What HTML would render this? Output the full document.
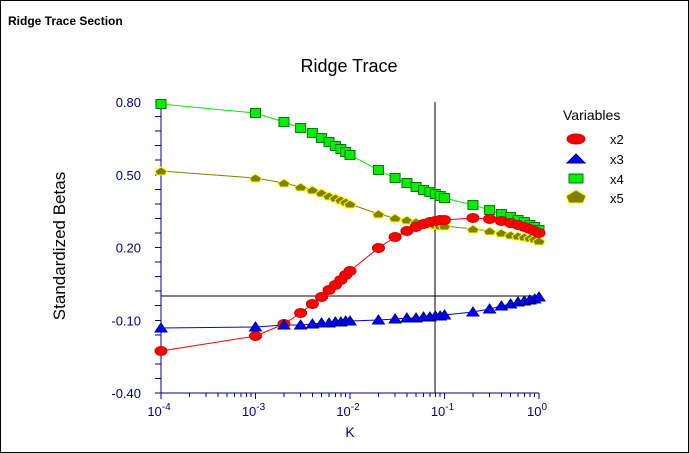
<!DOCTYPE html><html><head><style>body{margin:0;background:#fff}svg{display:block;font-family:"Liberation Sans",Arial,sans-serif}line{shape-rendering:crispEdges}</style></head><body>
<svg id="s" width="689" height="453" xmlns="http://www.w3.org/2000/svg">
<rect x="0.5" y="0.5" width="688" height="452" fill="#fff" stroke="#000"/>
<text x="8" y="25" font-size="12" font-weight="bold">Ridge Trace Section</text>
<text x="349" y="72" font-size="18" text-anchor="middle">Ridge Trace</text>
<text transform="translate(65,246) rotate(-90)" font-size="17" text-anchor="middle">Standardized Betas</text>
<text x="350" y="437" font-size="14" text-anchor="middle" fill="#000080">K</text>
<g id="g"></g>
<text x="563" y="120" font-size="14">Variables</text>
<ellipse cx="576" cy="139" rx="9" ry="5" fill="#f00" stroke="#c00"/>
<text x="610" y="144" font-size="13">x2</text>
<polygon points="567,163 576,154 585,163" fill="#00f" stroke="#000080"/>
<text x="610" y="164" font-size="13">x3</text>
<rect x="569" y="174" width="14" height="9" fill="#0e0" stroke="#070"/>
<text x="610" y="184" font-size="13">x4</text>
<polygon points="566,196 576,190 586,196 583,203 569,203" fill="#808000" stroke="#ff0"/>
<text x="610" y="203" font-size="13">x5</text>
</svg>
<script>
var g=document.getElementById('g'),h='';
function X(k){return 161+(Math.log10(k)+4)*94.5;}
var ks=[1e-4];for(var i=1;i<=10;i++)ks.push(i/1000);for(i=2;i<=10;i++)ks.push(i/100);for(i=2;i<=10;i++)ks.push(i/10);
h+='<line x1="161" y1="102" x2="161" y2="393" stroke="#000080"/><line x1="161" y1="393" x2="539" y2="393" stroke="#000080"/>';
for(i=0;i<=20;i++){var y=102+i*14.55;h+='<line x1="155" y1="'+y+'" x2="161" y2="'+y+'" stroke="#000080"/>';}
var yl=['0.80','0.50','0.20','-0.10','-0.40'];for(i=0;i<5;i++)h+='<text x="141" y="'+(107+i*72.75)+'" font-size="13" text-anchor="end" fill="#000080">'+yl[i]+'</text>';
for(var d=-4;d<0;d++)for(var m=1;m<10;m++){var x=X(m*Math.pow(10,d));h+='<line x1="'+x+'" y1="393" x2="'+x+'" y2="'+(m==1?399:397)+'" stroke="#000080"/>';}
h+='<line x1="539" y1="393" x2="539" y2="399" stroke="#000080"/>';
for(d=-4;d<=0;d++){var x=X(Math.pow(10,d));h+='<text x="'+(x-2)+'" y="416" font-size="13" text-anchor="middle" fill="#000080">10<tspan font-size="10" dy="-6">'+d+'</tspan></text>';}
h+='<line x1="161" y1="296" x2="539" y2="296" stroke="#000"/><line x1="435" y1="102" x2="435" y2="393" stroke="#000"/>';
var S={
x4:[104,113,122,128,133,138,142,146,149,152,155,170,178,183,187,190,192,194,196,198,205,210,214,217,220,222,225,227,230],
x5:[171,178,183,187,190,193,196,198,200,202,204,214,218,220,222,223,224,225,226,226,229,231,233,235,236,237,238,239,241],
x2:[351,336,324,313,304,297,290,285,280,275,271,248,237,231,227,224,222,221,220,220,218,219,221,223,225,227,229,231,233],
x3:[328,327,325,325,324,323,323,322,322,321,321,320,319,318,318,317,317,316,316,315,312,309,306,304,302,301,300,299,297]};
var C={x4:'#0e0',x5:'#808000',x2:'#f00',x3:'#00f'};
for(var k in S){var p=S[k].map(function(y,j){return X(ks[j]).toFixed(1)+','+y}).join(' ');h+='<polyline points="'+p+'" fill="none" stroke="'+C[k]+'"/>';}
for(k in S)S[k].forEach(function(y,j){var x=X(ks[j]);
if(k=='x2')h+='<ellipse cx="'+x+'" cy="'+y+'" rx="6" ry="4.5" fill="#f00" stroke="#c00"/>';
if(k=='x3')h+='<polygon points="'+(x-6)+','+(y+4)+' '+x+','+(y-5)+' '+(x+6)+','+(y+4)+'" fill="#00f" stroke="#000080"/>';
if(k=='x4')h+='<rect x="'+(x-5)+'" y="'+(y-4.5)+'" width="10" height="9" fill="#0e0" stroke="#070"/>';
if(k=='x5')h+='<polygon points="'+(x-6)+','+y+' '+x+','+(y-4)+' '+(x+6)+','+y+' '+(x+4)+','+(y+4)+' '+(x-4)+','+(y+4)+'" fill="#808000" stroke="#ff0"/>';});
g.innerHTML=h;
</script></body></html>
